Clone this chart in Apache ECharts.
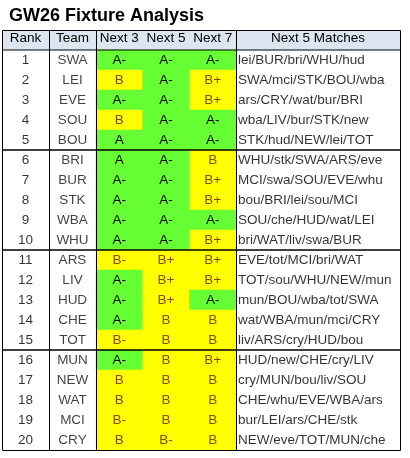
<!DOCTYPE html>
<html><head><meta charset="utf-8">
<script src="https://cdn.jsdelivr.net/npm/echarts@6/dist/echarts.min.js"></script>
<style>html,body{margin:0;padding:0;background:#fff}#c{width:410px;height:458px}</style>
</head><body><div id="c"></div>
<script>
const ranks = ['1','2','3','4','5','6','7','8','9','10','11','12','13','14','15','16','17','18','19','20'];
const teams = ['SWA','LEI','EVE','SOU','BOU','BRI','BUR','STK','WBA','WHU','ARS','LIV','HUD','CHE','TOT','MUN','NEW','WAT','MCI','CRY'];
const next3 = ['A-','B','A-','B','A','A','A-','A-','A-','A-','B-','A-','A-','A-','B-','A-','B','B','B-','B'];
const next5 = ['A-','A-','A-','A-','A-','A-','A-','A-','A-','A-','B+','B+','B+','B','B','B','B','B','B','B-'];
const next7 = ['A-','B+','B+','A-','A-','B','B+','B+','A-','B+','B+','B+','A-','B','B','B+','B','B','B','B'];
const matches = ['lei/BUR/bri/WHU/hud','SWA/mci/STK/BOU/wba','ars/CRY/wat/bur/BRI','wba/LIV/bur/STK/new','STK/hud/NEW/lei/TOT',
'WHU/stk/SWA/ARS/eve','MCI/swa/SOU/EVE/whu','bou/BRI/lei/sou/MCI','SOU/che/HUD/wat/LEI','bri/WAT/liv/swa/BUR',
'EVE/tot/MCI/bri/WAT','TOT/sou/WHU/NEW/mun','mun/BOU/wba/tot/SWA','wat/WBA/mun/mci/CRY','liv/ARS/cry/HUD/bou',
'HUD/new/CHE/cry/LIV','cry/MUN/bou/liv/SOU','CHE/whu/EVE/WBA/ars','bur/LEI/ars/CHE/stk','NEW/eve/TOT/MUN/che'];
const gradeCols = ['Next 3','Next 5','Next 7'];
const gradeScore = {'A':5,'A-':4,'B+':3,'B':2,'B-':1};

const FONT = 'Liberation Sans';
const heat = [];
[next3,next5,next7].forEach((col,ci)=>col.forEach((g,ri)=>heat.push({value:[ci,ri,gradeScore[g]],grade:g,
  label:{color:gradeScore[g]>=4?'#000':'#8a4a00'}})));

const grids = [
  {left:2,top:50,width:47,height:400},
  {left:49,top:50,width:47,height:400},
  {left:96,top:50,width:140,height:400},
  {left:236,top:50,width:164,height:400}
];
const headLabel = {show:true,interval:0,hideOverlap:false,fontFamily:FONT,fontSize:13.5,color:'#000',margin:5};
const xAxes = [
  {gridIndex:0,type:'category',position:'top',data:['Rank'],axisLine:{show:false},axisTick:{show:false},axisLabel:headLabel},
  {gridIndex:1,type:'category',position:'top',data:['Team'],axisLine:{show:false},axisTick:{show:false},axisLabel:headLabel},
  {gridIndex:2,type:'category',position:'top',data:gradeCols,axisLine:{show:false},axisTick:{show:false},axisLabel:headLabel},
  {gridIndex:3,type:'category',position:'top',data:['Next 5 Matches'],axisLine:{show:false},axisTick:{show:false},axisLabel:headLabel}
];
const yAxes = grids.map((g,i)=>({gridIndex:i,type:'category',data:ranks,inverse:true,show:false}));
const textLabel = {show:true,position:'inside',fontFamily:FONT,fontSize:13.5,color:'#000'};

const option = {
  animation:false,
  title:{text:'GW26 Fixture Analysis',left:4,top:2,textStyle:{fontFamily:FONT,fontSize:18,fontWeight:'bold',color:'#000'}},
  grid:grids, xAxis:xAxes, yAxis:yAxes,
  visualMap:{show:false,type:'piecewise',seriesIndex:2,dimension:2,
    pieces:[{min:4,max:5,color:'#66ff33'},{min:1,max:3,color:'#ffff00'}]},
  graphic:[
    {type:'rect',shape:{x:2,y:30,width:398,height:20},style:{fill:'#dce6f1'},z:-1},
    {type:'line',shape:{x1:2,y1:50,x2:400,y2:50},style:{stroke:'#000',lineWidth:1},z:10},
    {type:'line',shape:{x1:2,y1:150,x2:400,y2:150},style:{stroke:'#000',lineWidth:1.5},z:10},
    {type:'line',shape:{x1:2,y1:250,x2:400,y2:250},style:{stroke:'#000',lineWidth:1.5},z:10},
    {type:'line',shape:{x1:2,y1:350,x2:400,y2:350},style:{stroke:'#000',lineWidth:1.5},z:10},
    {type:'line',shape:{x1:49.5,y1:30,x2:49.5,y2:450},style:{stroke:'#000',lineWidth:1},z:10},
    {type:'line',shape:{x1:96.5,y1:30,x2:96.5,y2:450},style:{stroke:'#000',lineWidth:1},z:10},
    {type:'line',shape:{x1:236.5,y1:30,x2:236.5,y2:450},style:{stroke:'#000',lineWidth:1},z:10},
    {type:'rect',shape:{x:2.5,y:30.5,width:398,height:420},style:{fill:null,stroke:'#000',lineWidth:1},z:10}
  ],
  series:[
    {type:'scatter',xAxisIndex:0,yAxisIndex:0,symbolSize:0,data:ranks.map(r=>['Rank',r]),label:Object.assign({},textLabel,{formatter:p=>p.value[1]})},
    {type:'scatter',xAxisIndex:1,yAxisIndex:1,symbolSize:0,data:teams.map((t,i)=>({value:['Team',ranks[i]],t})),label:Object.assign({},textLabel,{formatter:p=>p.data.t,color:'#111'})},
    {type:'heatmap',xAxisIndex:2,yAxisIndex:2,data:heat,
      label:{show:true,fontFamily:FONT,fontSize:13.5,formatter:p=>p.data.grade,color:'#000'},
      itemStyle:{borderWidth:0}},
    {type:'scatter',xAxisIndex:3,yAxisIndex:3,symbolSize:0,data:matches.map((m,i)=>({value:['Next 5 Matches',ranks[i]],m})),
      label:Object.assign({},textLabel,{position:'inside',formatter:p=>p.data.m,align:'left',offset:[-80,0]})}
  ]
};
const chart = echarts.init(document.getElementById('c'));
chart.setOption(option);
</script></body></html>
